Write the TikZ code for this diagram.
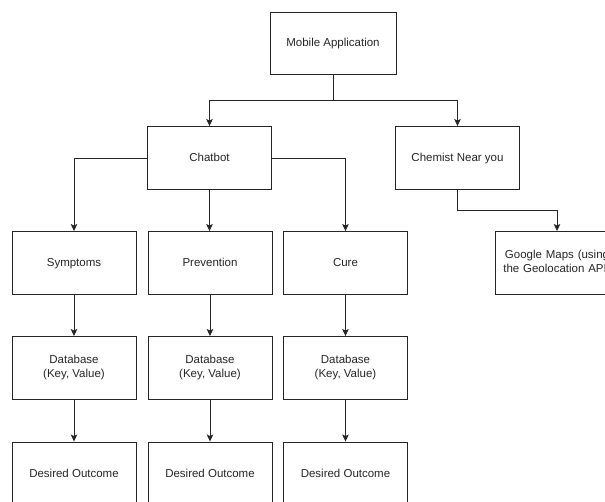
\documentclass[tikz,border=0pt]{standalone}
\usepackage{fontspec}
\setmainfont{Liberation Sans}
\usetikzlibrary{arrows.meta}
\begin{document}
\begin{tikzpicture}[x=1pt,y=-1pt,
  box/.style={draw=black!85, line width=0.9pt, fill=white, minimum width=124pt, minimum height=63pt, inner sep=2pt, align=center, font=\fontsize{11.5}{14}\selectfont, text=black!85},
  one/.style={text height=8.5pt, text depth=2.5pt},
  arr/.style={draw=black!85, line width=0.9pt, -{Stealth[length=7pt,width=6.5pt,inset=1.5pt]}}]
\useasboundingbox (0,0) rectangle (605,501);
\clip (0,0) rectangle (605,501);
\node[box, one, minimum width=126pt, minimum height=62pt] (mobile) at (333,43) {Mobile Application};
\node[box, one] (chatbot) at (209.5,158) {Chatbot};
\node[box, one] (chemist) at (457.5,158) {Chemist Near you};
\node[box, one] (symptoms) at (74,263) {Symptoms};
\node[box, one] (prevention) at (210,263) {Prevention};
\node[box, one] (cure) at (345.5,263) {Cure};
\node[box, text width=120pt] (google) at (557,263) {Google Maps (using\\the Geolocation API)};
\node[box] (db1) at (74,368) {Database\\(Key, Value)};
\node[box] (db2) at (210,368) {Database\\(Key, Value)};
\node[box] (db3) at (345.5,368) {Database\\(Key, Value)};
\node[box, one, minimum height=64pt] (out1) at (74,474) {Desired Outcome};
\node[box, one, minimum height=64pt] (out2) at (210,474) {Desired Outcome};
\node[box, one, minimum height=64pt] (out3) at (345.5,474) {Desired Outcome};
\coordinate (j1) at (333,100);
\coordinate (j2) at (457.5,210);
\draw[arr] (mobile.south) -- (j1) -| (chatbot.north);
\draw[arr] (j1) -| (chemist.north);
\draw[arr] (chatbot.west) -| (symptoms.north);
\draw[arr] (chatbot.south) -- (chatbot.south |- prevention.north);
\draw[arr] (chatbot.east) -| (cure.north);
\draw[arr] (chemist.south) -- (j2) -| (google.north);
\draw[arr] (symptoms.south) -- (db1.north);
\draw[arr] (prevention.south) -- (db2.north);
\draw[arr] (cure.south) -- (db3.north);
\draw[arr] (db1.south) -- (out1.north);
\draw[arr] (db2.south) -- (out2.north);
\draw[arr] (db3.south) -- (out3.north);
\end{tikzpicture}
\end{document}
